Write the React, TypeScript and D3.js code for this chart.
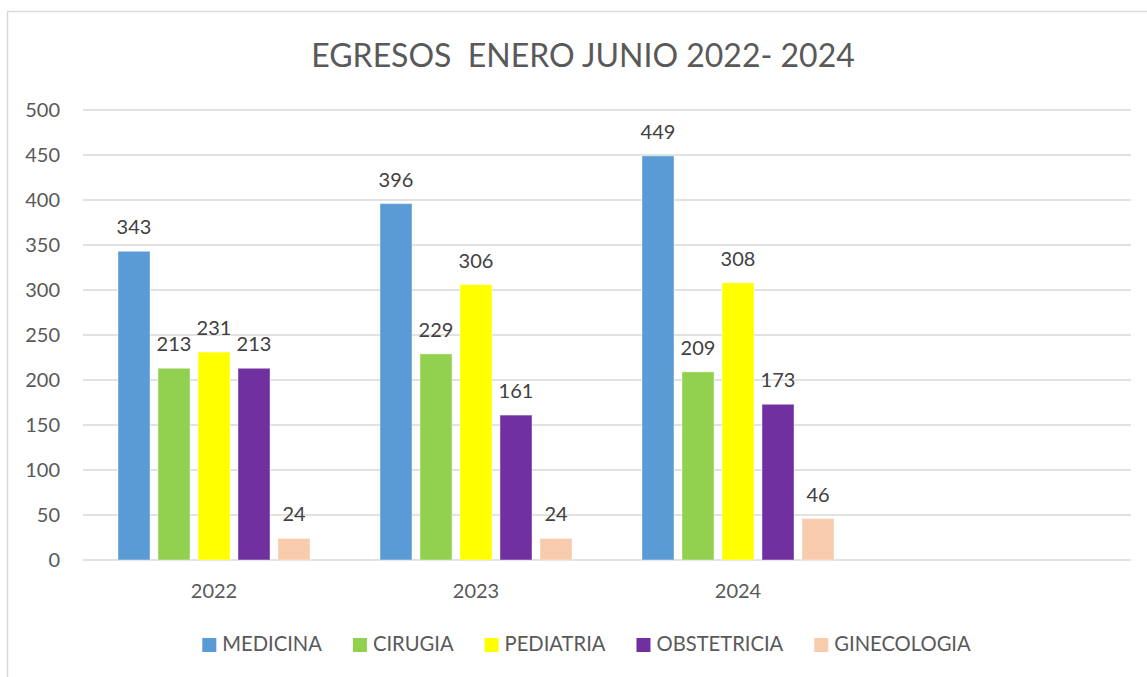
import React, { useEffect, useRef } from "react";
import * as d3 from "d3";

const years = ["2022", "2023", "2024", ""];
const series = ["MEDICINA", "CIRUGIA", "PEDIATRIA", "OBSTETRICIA", "GINECOLOGIA"];
const colors = ["#5B9BD5", "#92D050", "#FFFF00", "#7030A0", "#F8CBAD"];
const medicina = [343, 396, 449];
const cirugia = [213, 229, 209];
const pediatria = [231, 306, 308];
const obstetricia = [213, 161, 173];
const ginecologia = [24, 24, 46];
const yTicks = [0, 50, 100, 150, 200, 250, 300, 350, 400, 450, 500];

const values = [medicina, cirugia, pediatria, obstetricia, ginecologia];

const width = 1147;
const height = 677;
const margin = { top: 110, right: 16, bottom: 117, left: 83 };
const font = "Lato, 'Open Sans', sans-serif";
const textColor = "#595959";

const App = () => {
  const ref = useRef<SVGSVGElement>(null);

  useEffect(() => {
    const svg = d3.select(ref.current);
    svg.selectAll("*").remove();

    svg
      .append("rect")
      .attr("x", 7.5)
      .attr("y", 11.5)
      .attr("width", 1200)
      .attr("height", 800)
      .attr("fill", "#fff")
      .attr("stroke", "#d9d9d9")
      .attr("stroke-width", 1.5);

    const x = d3
      .scaleBand()
      .domain(years)
      .range([margin.left, width - margin.right])
      .padding(0);
    const xInner = d3
      .scaleBand()
      .domain(series)
      .range([0, x.bandwidth()])
      .paddingInner(0.2)
      .paddingOuter(0.875);
    const y = d3
      .scaleLinear()
      .domain([0, 500])
      .range([height - margin.bottom, margin.top]);

    // title
    svg
      .append("text")
      .attr("x", 583)
      .attr("y", 67)
      .attr("text-anchor", "middle")
      .attr("font-family", font)
      .attr("font-size", 32)
      .attr("fill", textColor)
      .style("white-space", "pre")
      .text("EGRESOS  ENERO JUNIO 2022- 2024");

    // grid
    const grid = svg.append("g");
    grid
      .selectAll("line")
      .data(yTicks)
      .join("line")
      .attr("x1", margin.left)
      .attr("x2", width - margin.right)
      .attr("y1", d => y(d))
      .attr("y2", d => y(d))
      .attr("stroke", "#d9d9d9")
      .attr("stroke-width", 1.3);

    grid
      .selectAll("text")
      .data(yTicks)
      .join("text")
      .attr("x", 60)
      .attr("y", d => y(d) + 7)
      .attr("text-anchor", "end")
      .attr("font-family", font)
      .attr("font-size", 20)
      .attr("fill", textColor)
      .text(d => d);

    // bars
    const groups = svg
      .append("g")
      .selectAll("g")
      .data(years.slice(0, 3))
      .join("g")
      .attr("transform", d => `translate(${x(d)},0)`);

    groups
      .selectAll("rect")
      .data((d, i) => series.map((s, j) => ({ s, j, v: values[j][i] })))
      .join("rect")
      .attr("x", d => xInner(d.s)!)
      .attr("y", d => y(d.v))
      .attr("width", xInner.bandwidth())
      .attr("height", d => y(0) - y(d.v))
      .attr("fill", d => colors[d.j])
      .attr("stroke", "#ffffff")
      .attr("stroke-opacity", 0.4)
      .attr("stroke-width", 1);

    groups
      .selectAll("text")
      .data((d, i) => series.map((s, j) => ({ s, j, v: values[j][i] })))
      .join("text")
      .attr("x", d => xInner(d.s)! + xInner.bandwidth() / 2)
      .attr("y", d => y(d.v) - 17)
      .attr("text-anchor", "middle")
      .attr("font-family", font)
      .attr("font-size", 20)
      .attr("fill", "#404040")
      .text(d => d.v);

    // x labels
    svg
      .append("g")
      .selectAll("text")
      .data(years.slice(0, 3))
      .join("text")
      .attr("x", d => x(d)! + x.bandwidth() / 2)
      .attr("y", 598)
      .attr("text-anchor", "middle")
      .attr("font-family", font)
      .attr("font-size", 20)
      .attr("fill", textColor)
      .text(d => d);

    // legend
    const legend = svg.append("g");
    const items = legend
      .selectAll("g")
      .data(series)
      .join("g");
    items
      .append("rect")
      .attr("width", 14)
      .attr("height", 14)
      .attr("y", 638)
      .attr("fill", (d, i) => colors[i]);
    const labels = items
      .append("text")
      .attr("x", 20)
      .attr("y", 651)
      .attr("font-family", font)
      .attr("font-size", 20.2)
      .attr("fill", textColor)
      .text(d => d);

    const widths: number[] = [];
    labels.each(function () {
      widths.push((this as SVGTextElement).getComputedTextLength());
    });
    const itemW = widths.map(w => 20 + w);
    const total = d3.sum(itemW) + 31 * (series.length - 1);
    let pos = 586.5 - total / 2;
    items.attr("transform", (d, i) => {
      const t = `translate(${pos},0)`;
      pos += itemW[i] + 31;
      return t;
    });
  }, []);

  return (
    <svg
      ref={ref}
      width={width}
      height={height}
      style={{ position: "absolute", left: 0, top: 0, display: "block" }}
    />
  );
};

export default App;
